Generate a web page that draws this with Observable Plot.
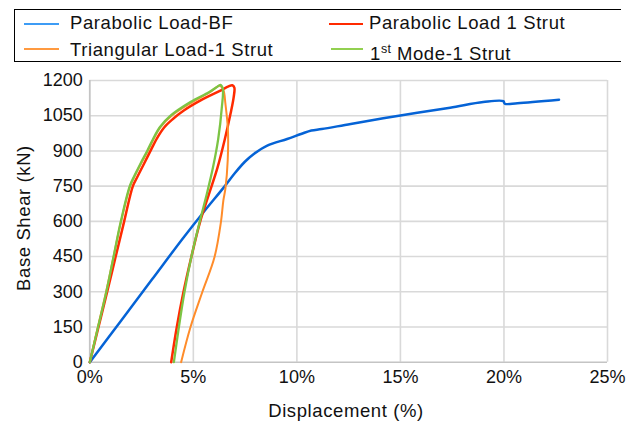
<!DOCTYPE html>
<html><head><meta charset="utf-8">
<script src="https://cdn.jsdelivr.net/npm/d3@7"></script>
<script src="https://cdn.jsdelivr.net/npm/@observablehq/plot@0.6"></script>
<style>
body{margin:0;background:#fff;}
#wrap{position:relative;width:629px;height:424px;font-family:"Liberation Sans",Arial,sans-serif;color:#111;}
#chart{position:absolute;left:0;top:0;}
#legend{position:absolute;left:14px;top:9px;width:607px;height:53px;border:1.5px solid #000;border-right:none;box-sizing:border-box;}
.t{position:absolute;font-size:18.5px;letter-spacing:0.6px;line-height:20px;white-space:nowrap;}
.sw{position:absolute;height:2px;}
sup{font-size:12.5px;position:relative;top:-1px;vertical-align:6px;letter-spacing:0.3px;}
</style></head>
<body>
<div id="wrap">
  <div id="chart"></div>
  <div id="legend"></div>
  <div class="sw" style="left:24px;top:23px;width:35px;background:#3d9cf5"></div>
  <div class="t" style="left:70px;top:12.9px">Parabolic Load-BF</div>
  <div class="sw" style="left:24px;top:48px;width:35px;background:#ff9a40"></div>
  <div class="t" style="left:70px;top:39.6px">Triangular Load-1 Strut</div>
  <div class="sw" style="left:329px;top:23px;width:34px;background:#ff2a00"></div>
  <div class="t" style="left:369px;top:12.9px">Parabolic Load 1 Strut</div>
  <div class="sw" style="left:331px;top:48px;width:32px;background:#92d050"></div>
  <div class="t" style="left:370px;top:39.6px">1<sup>st</sup> Mode-1 Strut</div>
  <div class="t" style="left:346px;top:400.9px;transform:translateX(-50%)">Displacement (%)</div>
  <div class="t" style="left:24px;top:218px;transform:translate(-50%,-50%) rotate(-90deg)">Base Shear (kN)</div>
</div>
<script>
// Displacement (%) , Base shear (kN)
const xTicks = [0, 5, 10, 15, 20, 25];
const yTicks = [0, 150, 300, 450, 600, 750, 900, 1050, 1200];

const parabolicBF = [
  [0,0],[1.5,176],[3.0,352],[4.5,528],[5.5,640],[6.5,748],[7.0,805],[7.5,855],
  [7.92,887],[8.57,923],[9.53,951],[10.2,972],[10.7,987],[11.2,993],[12.6,1015],
  [15.0,1051],[17.4,1084],[19.0,1108],[19.97,1112],[20.04,1101],[20.65,1103],[22.66,1118]
];
const parabolic1Strut = [
  [0,0],[0.42,150],[0.84,300],[1.25,450],[1.66,600],[2.08,750],[2.3,790],[2.6,842],
  [2.93,900],[3.25,955],[3.6,1001],[4.0,1035],[4.54,1072],[5.35,1115],[6.31,1157],
  [6.7,1175],[6.88,1180],[6.98,1170],[6.95,1130],[6.8,1060],[6.52,950],[6.17,830],
  [5.77,720],[5.32,596],[4.9,447],[4.52,298],[4.2,149],[3.93,0]
];
const triangular1Strut = [
  [0,0],[0.39,150],[0.79,300],[1.15,450],[1.51,600],[1.95,750],[2.18,795],[2.8,900],
  [3.4,1000],[3.95,1050],[4.9,1105],[5.8,1150],[6.28,1178],[6.45,1160],[6.55,1100],
  [6.67,990],[6.66,860],[6.55,740],[6.45,689],[6.33,596],[6.02,447],[5.43,298],
  [4.86,149],[4.41,0]
];
const mode1Strut = [
  [0,0],[0.4,150],[0.8,300],[1.15,450],[1.5,600],[1.93,750],[2.16,795],[2.47,850],
  [2.77,900],[3.05,950],[3.38,1001],[3.9,1050],[4.86,1108],[5.75,1150],[6.1,1170],
  [6.31,1181],[6.42,1165],[6.37,1080],[6.2,950],[5.95,830],[5.66,720],[5.3,596],
  [4.9,447],[4.57,298],[4.3,149],[4.06,0]
];

const series = [
  {data: parabolicBF, color: "#0563d6", w: 2.5},
  {data: parabolic1Strut, color: "#ff2a00", w: 2.5},
  {data: triangular1Strut, color: "#ff8c2a", w: 2},
  {data: mode1Strut, color: "#7cc444", w: 2.3}
];

const chart = Plot.plot({
  width: 629, height: 424,
  marginLeft: 89.3, marginRight: 22, marginTop: 80, marginBottom: 62.3,
  style: {fontFamily: "Liberation Sans, Arial, sans-serif", fontSize: "18px", color: "#111", background: "transparent", overflow: "visible"},
  x: {domain: [0, 25]},
  y: {domain: [0, 1200]},
  marks: [
    Plot.gridX(xTicks.filter(d => d > 0), {stroke: "#d9d9d9", strokeOpacity: 1, strokeWidth: 1.6}),
    Plot.gridY(yTicks.filter(d => d > 0), {stroke: "#d9d9d9", strokeOpacity: 1, strokeWidth: 1.6}),
    Plot.ruleX([0], {stroke: "#c4c4c4", strokeWidth: 1.8}),
    Plot.ruleY([0], {stroke: "#c4c4c4", strokeWidth: 1.6}),
    Plot.axisX({ticks: xTicks, tickSize: 0, tickPadding: 8, label: null, tickFormat: d => d + "%"}),
    Plot.axisY({ticks: yTicks, tickSize: 0, tickPadding: 7, label: null, tickFormat: d => String(d)}),
    ...series.map(s => Plot.line(s.data, {x: d => d[0], y: d => d[1], stroke: s.color, strokeWidth: s.w, curve: "catmull-rom", strokeLinejoin: "round", strokeLinecap: "round"}))
  ]
});
document.getElementById("chart").appendChild(chart);
</script>
</body></html>
